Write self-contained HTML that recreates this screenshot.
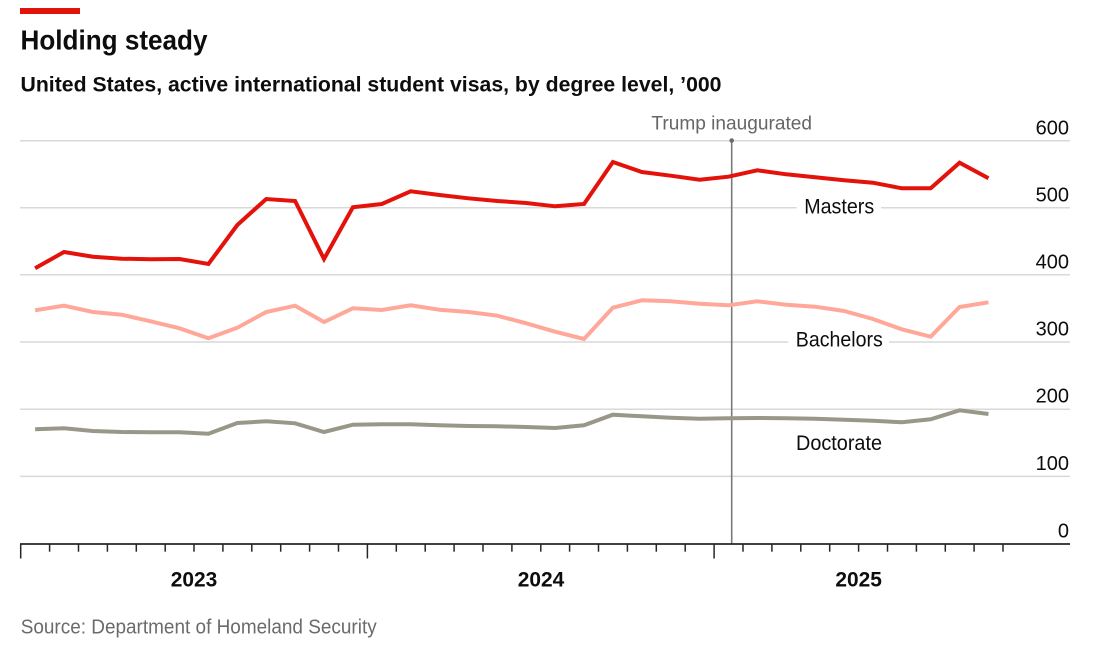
<!DOCTYPE html>
<html>
<head>
<meta charset="utf-8">
<style>
html,body{margin:0;padding:0;background:#fff;}
svg{display:block;}
text{font-family:"Liberation Sans",Arial,sans-serif;}
</style>
</head>
<body>
<svg width="1096" height="647" viewBox="0 0 1096 647" xmlns="http://www.w3.org/2000/svg">
  <rect x="0" y="0" width="1096" height="647" fill="#fff"/>
  <!-- red top bar -->
  <rect x="20" y="8" width="60" height="6" fill="#E3120B"/>
  <!-- title -->
  <text x="20.5" y="49.3" font-size="28" font-weight="bold" fill="#0d0d0d" textLength="187" lengthAdjust="spacingAndGlyphs">Holding steady</text>
  <text x="20.5" y="91.7" font-size="21.5" font-weight="bold" fill="#0d0d0d" textLength="701" lengthAdjust="spacingAndGlyphs">United States, active international student visas, by degree level, ’000</text>

  <!-- gridlines -->
  <g stroke="#d9d9d9" stroke-width="1.5">
    <line x1="20" y1="140.8" x2="1070" y2="140.8"/>
    <line x1="20" y1="207.8" x2="1070" y2="207.8"/>
    <line x1="20" y1="274.8" x2="1070" y2="274.8"/>
    <line x1="20" y1="342" x2="1070" y2="342"/>
    <line x1="20" y1="409.2" x2="1070" y2="409.2"/>
    <line x1="20" y1="476.4" x2="1070" y2="476.4"/>
  </g>

  <!-- y labels -->
  <g font-size="20" fill="#0d0d0d" text-anchor="end">
    <text x="1069" y="134.3">600</text>
    <text x="1069" y="201.3">500</text>
    <text x="1069" y="268.3">400</text>
    <text x="1069" y="335.5">300</text>
    <text x="1069" y="402.7">200</text>
    <text x="1069" y="469.9">100</text>
    <text x="1069" y="537.3">0</text>
  </g>

  <!-- Trump inaugurated -->
  <line x1="731.7" y1="140" x2="731.7" y2="544" stroke="#7a7a7a" stroke-width="1.6"/>
  <circle cx="731.7" cy="140.5" r="2.3" fill="#6b6b6b"/>
  <text x="731.7" y="129.3" font-size="19.5" fill="#666" text-anchor="middle" textLength="160.6" lengthAdjust="spacingAndGlyphs">Trump inaugurated</text>

  <!-- label boxes -->
  <rect x="796.7" y="195" width="84.3" height="22" fill="#fff"/>
  <rect x="788.3" y="329" width="100.7" height="22" fill="#fff"/>

  <!-- series -->
  <g fill="none" stroke-width="4" stroke-linejoin="miter" stroke-miterlimit="10">
    <polyline stroke="#999888" points="35.1,429.3 63.99,428.3 92.88,431 121.77,432 150.66,432.3 179.55,432.3 208.44,433.7 237.33,423 266.22,421.3 295.11,423.3 324,432 352.89,424.7 381.78,424.3 410.67,424.3 439.56,425.3 468.45,426 497.34,426.3 526.23,427 555.12,428 584.01,425.3 612.9,414.7 641.79,416.3 670.68,417.7 699.57,418.7 728.46,418.3 757.35,418 786.24,418.3 815.13,418.7 844.02,419.7 872.91,420.7 901.8,422.3 930.69,419.3 959.58,410.3 988.47,414"/>
    <polyline stroke="#FFA89A" points="35.1,310.3 63.99,305.7 92.88,312 121.77,314.7 150.66,321.3 179.55,328.3 208.44,338.3 237.33,327.7 266.22,312 295.11,305.7 324,322 352.89,308.3 381.78,310 410.67,305.3 439.56,309.7 468.45,312 497.34,315.7 526.23,323.3 555.12,331.7 584.01,339 612.9,307.7 641.79,300.3 670.68,301.3 699.57,303.7 728.46,305.3 757.35,301.3 786.24,304.7 815.13,306.7 844.02,311 872.91,319 901.8,329.3 930.69,336.7 959.58,307 988.47,302.3"/>
    <polyline stroke="#E3120B" points="35.1,268.3 63.99,252 92.88,256.7 121.77,258.7 150.66,259.3 179.55,259 208.44,264 237.33,225 266.22,199 295.11,201 324,259 352.89,207.3 381.78,204 410.67,191.3 439.56,195 468.45,198.3 497.34,201 526.23,203 555.12,206.3 584.01,204 612.9,162 641.79,172 670.68,175.7 699.57,179.7 728.46,176.7 757.35,170.3 786.24,174.3 815.13,177.3 844.02,180.3 872.91,182.7 901.8,188.3 930.69,188.3 959.58,162.7 988.47,178.3"/>
  </g>

  <!-- series labels -->
  <g font-size="21" fill="#0d0d0d" text-anchor="middle">
    <text x="839.2" y="213.3" textLength="70" lengthAdjust="spacingAndGlyphs">Masters</text>
    <text x="839.3" y="346.7" textLength="87" lengthAdjust="spacingAndGlyphs">Bachelors</text>
    <text x="839" y="449.8" textLength="86" lengthAdjust="spacingAndGlyphs">Doctorate</text>
  </g>

  <!-- x axis -->
  <line x1="20" y1="544" x2="1070" y2="544" stroke="#262626" stroke-width="1.8"/>
  <g stroke="#262626" stroke-width="1.5">
    <line x1="20.7" y1="544" x2="20.7" y2="558.5"/>
    <line x1="49.6" y1="544" x2="49.6" y2="551.7"/>
    <line x1="78.5" y1="544" x2="78.5" y2="551.7"/>
    <line x1="107.4" y1="544" x2="107.4" y2="551.7"/>
    <line x1="136.3" y1="544" x2="136.3" y2="551.7"/>
    <line x1="165.2" y1="544" x2="165.2" y2="551.7"/>
    <line x1="194.0" y1="544" x2="194.0" y2="551.7"/>
    <line x1="222.9" y1="544" x2="222.9" y2="551.7"/>
    <line x1="251.8" y1="544" x2="251.8" y2="551.7"/>
    <line x1="280.7" y1="544" x2="280.7" y2="551.7"/>
    <line x1="309.6" y1="544" x2="309.6" y2="551.7"/>
    <line x1="338.5" y1="544" x2="338.5" y2="551.7"/>
    <line x1="367.4" y1="544" x2="367.4" y2="558.5"/>
    <line x1="396.3" y1="544" x2="396.3" y2="551.7"/>
    <line x1="425.2" y1="544" x2="425.2" y2="551.7"/>
    <line x1="454.1" y1="544" x2="454.1" y2="551.7"/>
    <line x1="483.0" y1="544" x2="483.0" y2="551.7"/>
    <line x1="511.9" y1="544" x2="511.9" y2="551.7"/>
    <line x1="540.8" y1="544" x2="540.8" y2="551.7"/>
    <line x1="569.6" y1="544" x2="569.6" y2="551.7"/>
    <line x1="598.5" y1="544" x2="598.5" y2="551.7"/>
    <line x1="627.4" y1="544" x2="627.4" y2="551.7"/>
    <line x1="656.3" y1="544" x2="656.3" y2="551.7"/>
    <line x1="685.2" y1="544" x2="685.2" y2="551.7"/>
    <line x1="714.1" y1="544" x2="714.1" y2="558.5"/>
    <line x1="743.0" y1="544" x2="743.0" y2="551.7"/>
    <line x1="771.9" y1="544" x2="771.9" y2="551.7"/>
    <line x1="800.8" y1="544" x2="800.8" y2="551.7"/>
    <line x1="829.7" y1="544" x2="829.7" y2="551.7"/>
    <line x1="858.6" y1="544" x2="858.6" y2="551.7"/>
    <line x1="887.5" y1="544" x2="887.5" y2="551.7"/>
    <line x1="916.4" y1="544" x2="916.4" y2="551.7"/>
    <line x1="945.3" y1="544" x2="945.3" y2="551.7"/>
    <line x1="974.1" y1="544" x2="974.1" y2="551.7"/>
    <line x1="1003.0" y1="544" x2="1003.0" y2="551.7"/>
  </g>
  <g font-size="21" font-weight="bold" fill="#0d0d0d" text-anchor="middle">
    <text x="194" y="586.5" textLength="46.5" lengthAdjust="spacingAndGlyphs">2023</text>
    <text x="541" y="586.5" textLength="46.5" lengthAdjust="spacingAndGlyphs">2024</text>
    <text x="858.6" y="586.5" textLength="46.5" lengthAdjust="spacingAndGlyphs">2025</text>
  </g>

  <!-- source -->
  <text x="20.7" y="633.3" font-size="20" fill="#6b6b6b" textLength="356" lengthAdjust="spacingAndGlyphs">Source: Department of Homeland Security</text>
</svg>
</body>
</html>
